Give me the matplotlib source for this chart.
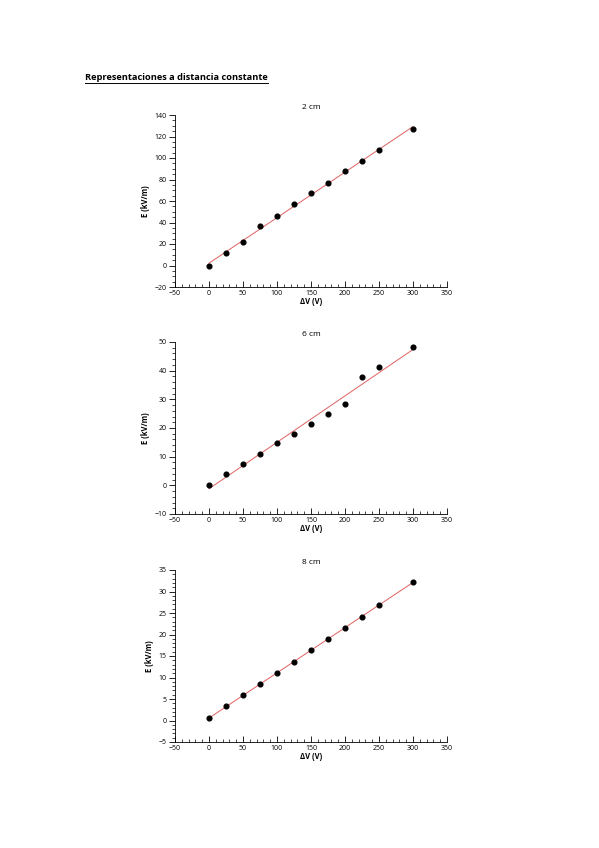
import numpy as np
import matplotlib
matplotlib.use("Agg")
import matplotlib.pyplot as plt
from matplotlib.ticker import MultipleLocator

# ============ Data ============
dv = [0, 25, 50, 75, 100, 125, 150, 175, 200, 225, 250, 300]

e_2cm = [0.0, 11.3, 21.4, 36.7, 45.6, 57.2, 67.3, 77.1, 87.5, 97.0, 107.0, 127.2]
e_6cm = [0.0, 4.1, 7.4, 11.0, 14.6, 17.9, 21.3, 24.9, 28.3, 37.8, 41.4, 48.3]
e_8cm = [0.5, 3.3, 5.9, 8.5, 11.0, 13.6, 16.4, 19.0, 21.5, 24.1, 26.9, 32.2]

titles = ["2 cm", "6 cm", "8 cm"]
ylims = [(-20, 140), (-10, 50), (-5, 35)]
ymajor = [20, 10, 5]
yminor = [5, 2, 1]

plt.rcParams['font.family'] = ['Open Sans', 'DejaVu Sans']

fig = plt.figure(figsize=(5.99, 8.48), dpi=100)

fig.text(85 / 599, 1 - 78 / 848, "Representaciones a distancia constante",
         fontsize=6.7, fontweight='bold', ha='left', va='center')
# underline
fig.add_artist(plt.Line2D([85 / 599, 268 / 599], [1 - 83 / 848, 1 - 83 / 848],
                          color='black', lw=0.7))

bottoms = [1 - 287 / 848, 1 - 514 / 848, 1 - 742 / 848]
left, width, height = 175 / 599, 272 / 599, 172 / 848

for k, ys in enumerate([e_2cm, e_6cm, e_8cm]):
    ax = fig.add_axes([left, bottoms[k], width, height])
    x = np.array(dv, dtype=float)
    y = np.array(ys)
    m, b = np.polyfit(x, y, 1)
    ax.plot(x, m * x + b, color='#e06060', lw=0.7, zorder=2)
    ax.plot(x, y, 'o', color='black', ms=3.4, zorder=3)

    ax.set_xlim(-50, 350)
    ax.set_ylim(*ylims[k])
    ax.xaxis.set_major_locator(MultipleLocator(50))
    ax.xaxis.set_minor_locator(MultipleLocator(10))
    ax.yaxis.set_major_locator(MultipleLocator(ymajor[k]))
    ax.yaxis.set_minor_locator(MultipleLocator(yminor[k]))

    for s in ['top', 'right']:
        ax.spines[s].set_visible(False)
    for s in ['left', 'bottom']:
        ax.spines[s].set_linewidth(0.6)

    ax.tick_params(axis='x', which='major', direction='in', length=4, width=0.6,
                   labelsize=5, pad=2)
    ax.tick_params(axis='x', which='minor', direction='in', length=2, width=0.5)
    ax.tick_params(axis='y', which='major', direction='out', length=4, width=0.6,
                   labelsize=5, pad=2)
    ax.tick_params(axis='y', which='minor', direction='out', length=2, width=0.5)

    ax.set_title(titles[k], fontsize=6, pad=4)
    ax.set_xlabel("ΔV (V)", fontsize=5.5, fontweight='bold', labelpad=0)
    ax.set_ylabel("E (kV/m)", fontsize=5.5, fontweight='bold', labelpad=3)

fig.savefig("out.png", dpi=100)
